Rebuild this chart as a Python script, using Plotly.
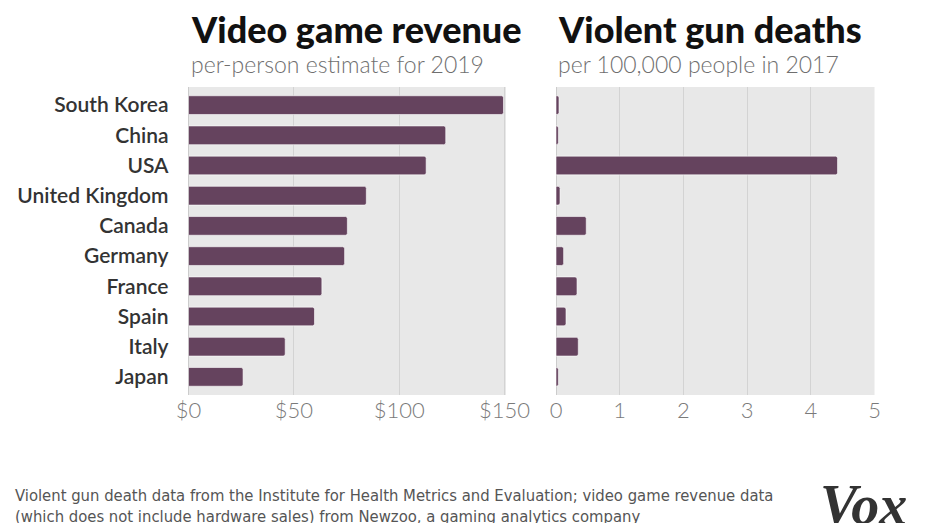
import plotly.graph_objects as go

countries = ["South Korea", "China", "USA", "United Kingdom", "Canada",
             "Germany", "France", "Spain", "Italy", "Japan"]
revenue = [149.5, 122.1, 112.8, 84.4, 75.4, 74.1, 63.3, 59.8, 45.9, 25.9]
gun_deaths = [0.047, 0.037, 4.42, 0.063, 0.475, 0.12, 0.33, 0.157, 0.35, 0.037]

rev_ticks = [0, 50, 100, 150]
rev_ticktext = ["$0", "$50", "$100", "$150"]
gun_ticks = [0, 1, 2, 3, 4, 5]

W, H = 930, 523
BAR = "#65435e"
BG = "#e8e8e8"
GRID = "#d3d3d3"

def px_x(p):
    return p / W

def px_y(p):
    return 1 - p / H

fig = go.Figure()
fig.add_trace(go.Bar(
    y=countries, x=revenue, orientation="h", width=0.62,
    marker=dict(color=BAR, line=dict(color="white", width=0.6), cornerradius=2),
    xaxis="x", yaxis="y", hoverinfo="x+y", showlegend=False))
fig.add_trace(go.Bar(
    y=countries, x=gun_deaths, orientation="h", width=0.62,
    marker=dict(color=BAR, line=dict(color="white", width=0.6), cornerradius=2),
    xaxis="x2", yaxis="y2", hoverinfo="x+y", showlegend=False))

ydom = [px_y(395), px_y(87)]
axis_common = dict(showgrid=True, gridcolor=GRID, gridwidth=1, zeroline=True,
                   zerolinecolor="#cccccc", zerolinewidth=1, ticks="",
                   tickfont=dict(family="Lato", size=22, color="#7a7a7a", weight=300),
                   showline=False, fixedrange=True, automargin=False)

fig.update_layout(
    template="none",
    width=W, height=H, autosize=False,
    margin=dict(l=0, r=0, t=0, b=0, pad=0),
    paper_bgcolor="white", plot_bgcolor=BG,
    bargap=0.38,
    xaxis=dict(domain=[px_x(188.5), px_x(506)], range=[0, 150.7],
               tickvals=rev_ticks, ticktext=rev_ticktext, anchor="y",
               **axis_common),
    xaxis2=dict(domain=[px_x(556), px_x(874.5)], range=[0, 5],
                tickvals=gun_ticks, anchor="y2", **axis_common),
    yaxis=dict(domain=ydom, categoryorder="array", categoryarray=countries,
               range=[9.6, -0.6], showgrid=False, zeroline=False, ticks="",
               ticklabelstandoff=19, automargin=False,
               tickfont=dict(family="Lato", size=21, color="#333333", weight=600),
               fixedrange=True, anchor="x"),
    yaxis2=dict(domain=ydom, categoryorder="array", categoryarray=countries,
                range=[9.6, -0.6], showgrid=False, zeroline=False,
                showticklabels=False, ticks="", automargin=False,
                fixedrange=True, anchor="x2"),
)

title_font = dict(family="Lato", size=36, color="#111111", weight=900)
sub_font = dict(family="Lato", size=23, color="#6f6f6f", weight=300)

annots = [
    dict(text="Video game revenue", x=px_x(189), y=px_y(53), xanchor="left",
         yanchor="bottom", font=title_font),
    dict(text="per-person estimate for 2019", x=px_x(189), y=px_y(80),
         xanchor="left", yanchor="bottom", font=sub_font),
    dict(text="Violent gun deaths", x=px_x(556), y=px_y(53), xanchor="left",
         yanchor="bottom", font=title_font),
    dict(text="per 100,000 people in 2017", x=px_x(556), y=px_y(80),
         xanchor="left", yanchor="bottom", font=sub_font),
    dict(text="Violent gun death data from the Institute for Health Metrics and Evaluation; video game revenue data<br>"
              "(which does not include hardware sales) from Newzoo, a gaming analytics company",
         x=px_x(13), y=px_y(484), xanchor="left", yanchor="top", align="left",
         font=dict(family="DejaVu Sans Condensed", size=16.5, color="#555555")),
    dict(text="<i><b>Vox</b></i>", x=px_x(818), y=px_y(472), xanchor="left",
         yanchor="top", font=dict(family="Liberation Serif", size=56, color="#333333")),
]
for a in annots:
    a.update(xref="paper", yref="paper", showarrow=False)
fig.update_layout(annotations=annots)

fig.write_html("out.html",
               config={"displayModeBar": False},
               post_script="document.body.style.margin='0';document.body.style.overflow='hidden';")
